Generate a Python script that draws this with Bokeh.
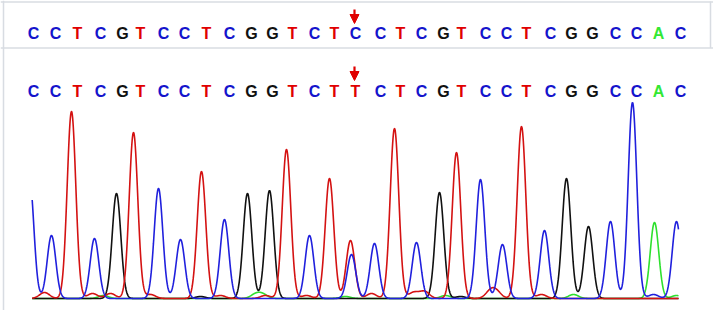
import numpy as np
from bokeh.plotting import figure
from bokeh.models import Range1d, Span, Arrow, NormalHead, ColumnDataSource
from bokeh.core.properties import value
from bokeh.embed import file_html
from bokeh.resources import INLINE

# ---- base calls ----
ref_seq = list("CCTCGTCCTCGGTCTCCTCGTCCTCGGCCAC")
sample_seq = list("CCTCGTCCTCGGTCTTCTCGTCCTCGGCCAC")
base_pos = [33, 55, 77, 100, 122, 140, 163, 184, 206, 229, 251, 272, 292, 314, 334,
            355, 380, 400, 421, 443, 461, 485, 506, 526, 550, 571, 592, 615, 636, 658, 680]
mutation_index = 15

# ---- trace peaks (scan position, signal) ----
c_pos = [29, 51, 94, 158, 180, 224, 309, 351, 374, 416, 480, 502, 544, 610, 632, 676]
c_amp = [120, 63, 60, 110, 59, 79, 63, 44, 55, 56, 119, 54, 68, 77, 196, 77]
c_minor_pos = [653]
c_minor_amp = [4]

t_pos = [71, 133, 201, 286, 329, 350, 394, 456, 521]
t_amp = [187, 166, 127, 149, 120, 58, 170, 146, 172]
t_minor_pos = [44, 92, 110, 150, 220, 265, 306, 371, 413, 424, 490, 496, 541]
t_minor_amp = [6, 5, 5, 4, 3, 3, 3, 5, 6, 7, 7, 6, 4]

g_pos = [116, 247, 269, 439, 566, 588]
g_amp = [105, 105, 108, 106, 120, 72]
g_minor_pos = [200, 460]
g_minor_amp = [2, 2]

a_pos = [654]
a_amp = [76]
a_minor_pos = [103, 255, 262, 345, 445, 573, 676]
a_minor_amp = [3, 4, 4, 2, 3, 4, 3]

scan_start, scan_end = 31.7, 678

base_colors = {"A": "#33e833", "C": "#1414cc", "G": "#111111", "T": "#e00000"}
trace_colors = {"A": "#2ee02e", "C": "#2020dd", "G": "#111111", "T": "#d41212"}

MAJOR_W = 4.3
MINOR_W = 5.0


def trace(xs, pos, amp, mpos, mamp):
    y = np.zeros_like(xs)
    for p0, a0 in zip(pos, amp):
        y += a0 * np.exp(-0.5 * ((xs - p0) / MAJOR_W) ** 2)
    for p0, a0 in zip(mpos, mamp):
        y += a0 * np.exp(-0.5 * ((xs - p0) / MINOR_W) ** 2)
    return y


xs = np.linspace(scan_start, scan_end, 2000)

p = figure(width=713, height=310, x_range=Range1d(0, 713), y_range=Range1d(-12, 298),
           output_backend="svg", toolbar_location=None, min_border=0,
           x_axis_location=None, y_axis_location=None)
p.grid.visible = False
p.outline_line_color = None
p.background_fill_color = "white"
p.border_fill_color = "white"

channels = [
    ("A", a_pos, a_amp, a_minor_pos, a_minor_amp),
    ("G", g_pos, g_amp, g_minor_pos, g_minor_amp),
    ("T", t_pos, t_amp, t_minor_pos, t_minor_amp),
    ("C", c_pos, c_amp, c_minor_pos, c_minor_amp),
]
for base, pos, amp, mpos, mamp in channels:
    p.line(xs, trace(xs, pos, amp, mpos, mamp), line_color=trace_colors[base], line_width=1.6)

# panel frame: top edge, separator, left edge, right edge of the reference panel
border = "#d8dce2"
p.add_layout(Span(location=296.5, dimension="width", line_color=border, line_width=1.5))
p.add_layout(Span(location=250.5, dimension="width", line_color=border, line_width=1.5))
p.add_layout(Span(location=3, dimension="height", line_color=border, line_width=1.5))
p.segment(x0=[710], y0=[250.5], x1=[710], y1=[297], line_color=border, line_width=1.5)

top_src = ColumnDataSource(dict(x=base_pos, y=[265] * len(ref_seq), t=ref_seq,
                                c=[base_colors[b] for b in ref_seq]))
bot_src = ColumnDataSource(dict(x=base_pos, y=[207.5] * len(sample_seq), t=sample_seq,
                                c=[base_colors[b] for b in sample_seq]))
for src in (top_src, bot_src):
    p.text(x="x", y="y", text="t", text_color="c", source=src,
           text_font=value("Liberation Sans"), text_font_style="bold",
           text_font_size="16px", text_align="center", text_baseline="alphabetic")

mx = base_pos[mutation_index] - 1
for y0, y1 in ((289, 275), (232, 218)):
    p.add_layout(Arrow(x_start=mx, y_start=y0, x_end=mx, y_end=y1,
                       line_color="#e00000", line_width=2.2,
                       end=NormalHead(size=9, fill_color="#e00000", line_color="#e00000")))

open("out.html", "w").write(file_html(p, INLINE))
